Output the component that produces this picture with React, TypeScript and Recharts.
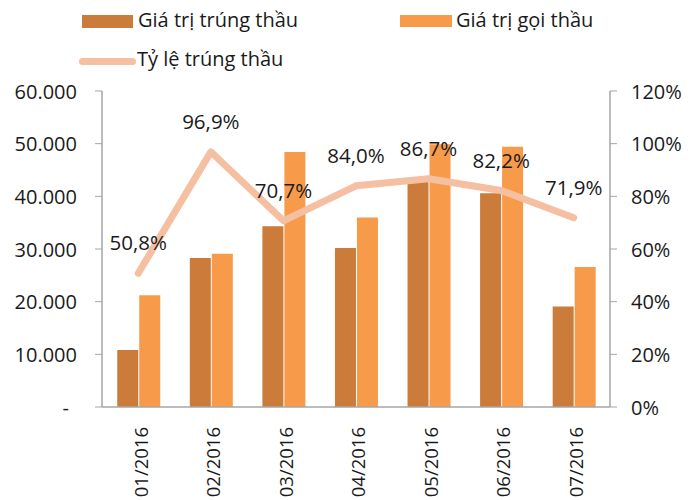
import React from "react";
import { ComposedChart, Bar, Line, XAxis, YAxis, LabelList } from "recharts";

const categories = ["01/2016", "02/2016", "03/2016", "04/2016", "05/2016", "06/2016", "07/2016"];
const trungThau = [10800, 28300, 34300, 30200, 43200, 40600, 19100];
const goiThau = [21200, 29100, 48400, 36000, 49900, 49400, 26600];
const tyLe = [0.508, 0.969, 0.707, 0.84, 0.867, 0.822, 0.719];
const tyLeLabels = ["50,8%", "96,9%", "70,7%", "84,0%", "86,7%", "82,2%", "71,9%"];
const leftTicks = [0, 10000, 20000, 30000, 40000, 50000, 60000];
const rightTicks = [0, 0.2, 0.4, 0.6, 0.8, 1.0, 1.2];
const gridTicks = [0, 1, 2, 3, 4, 5, 6, 7];
const seriesNames = ["Giá trị trúng thầu", "Giá trị gọi thầu", "Tỷ lệ trúng thầu"];

const data = categories.map((c, i) => ({
  cat: c,
  a: trungThau[i],
  b: goiThau[i],
  r: tyLe[i],
  lbl: tyLeLabels[i],
}));

const FONT = "'Open Sans', sans-serif";
const TEXT = "#1a1a1a";
const AXIS = "#a6a6a6";
const DARK = "#CB7B3A";
const LIGHT = "#F79A4A";
const LINE = "#F5BFA2";

const fmtLeft = (v: number) =>
  v === 0 ? "-" : v.toLocaleString("en-US").replace(/,/g, ".");

const LeftTick = (props: any) => {
  const { x, y, payload } = props;
  const v = payload.value;
  return (
    <text x={v === 0 ? x - 8 : x} y={y} textAnchor="end" dominantBaseline="central"
      fill={TEXT} fontSize={20} fontFamily={FONT}>
      {fmtLeft(v)}
    </text>
  );
};

const RightTick = (props: any) => {
  const { x, y, payload } = props;
  return (
    <text x={x} y={y} textAnchor="start" dominantBaseline="central"
      fill={TEXT} fontSize={20} fontFamily={FONT}>
      {Math.round(payload.value * 100) + "%"}
    </text>
  );
};

const CatTick = (props: any) => {
  const { x, y, payload } = props;
  return (
    <g transform={`translate(${x},${y + 12})`}>
      <text transform="rotate(-90)" x={0} y={0} dy="0.5em" textAnchor="end"
        fill={TEXT} fontSize={18.5} fontFamily={FONT}>
        {payload.value}
      </text>
    </g>
  );
};

const RateLabel = (props: any) => {
  const { x, y, value } = props;
  return (
    <text x={x} y={y - 31} textAnchor="middle" dominantBaseline="central"
      fill={TEXT} fontSize={20.5} fontFamily={FONT}>
      {value}
    </text>
  );
};

const legendText: React.CSSProperties = {
  fontFamily: FONT, fontSize: 20, color: TEXT, position: "absolute", lineHeight: "24px",
  whiteSpace: "nowrap",
};

export default function App() {
  return (
    <div style={{ position: "absolute", left: 0, top: 0, width: 700, height: 500, background: "#fff" }}>
      <div style={{ position: "absolute", left: 82, top: 15, width: 51, height: 13, background: DARK }} />
      <div style={{ ...legendText, left: 138, top: 8 }}>{seriesNames[0]}</div>
      <div style={{ position: "absolute", left: 400, top: 15, width: 52, height: 12, background: LIGHT }} />
      <div style={{ ...legendText, left: 456, top: 8 }}>{seriesNames[1]}</div>
      <div style={{ position: "absolute", left: 79, top: 58, width: 57, height: 7, borderRadius: 4, background: LINE }} />
      <div style={{ ...legendText, left: 137, top: 47 }}>{seriesNames[2]}</div>
      <ComposedChart width={700} height={500} data={data}
        margin={{ top: 91, right: 0, bottom: 0, left: 0 }}
        barCategoryGap="21%" barGap={1}>
        <XAxis xAxisId="a" type="number" domain={[0, 7]} ticks={gridTicks} height={0}
          axisLine={false} tick={false} tickLine={{ stroke: AXIS }} tickSize={7}
          allowDataOverflow />
        <XAxis xAxisId="b" dataKey="cat" height={93} tick={<CatTick />}
          tickLine={false} axisLine={{ stroke: AXIS, strokeWidth: 1.5 }} interval={0} />
        <YAxis yAxisId="left" domain={[0, 60000]} ticks={leftTicks} width={102}
          tick={<LeftTick />} tickMargin={18} tickSize={7}
          axisLine={{ stroke: AXIS, strokeWidth: 1.5 }} tickLine={{ stroke: AXIS }} />
        <YAxis yAxisId="right" orientation="right" domain={[0, 1.2]} ticks={rightTicks} width={90}
          tick={<RightTick />} tickMargin={14} tickSize={7}
          axisLine={{ stroke: AXIS, strokeWidth: 1.5 }} tickLine={{ stroke: AXIS }} />
        <Bar xAxisId="b" yAxisId="left" dataKey="a" fill={DARK} isAnimationActive={false} />
        <Bar xAxisId="b" yAxisId="left" dataKey="b" fill={LIGHT} isAnimationActive={false} />
        <Line xAxisId="b" yAxisId="right" dataKey="r" stroke={LINE} strokeWidth={7}
          strokeLinecap="round" strokeLinejoin="round" dot={false} isAnimationActive={false}>
          <LabelList dataKey="lbl" content={<RateLabel />} />
        </Line>
      </ComposedChart>
    </div>
  );
}
